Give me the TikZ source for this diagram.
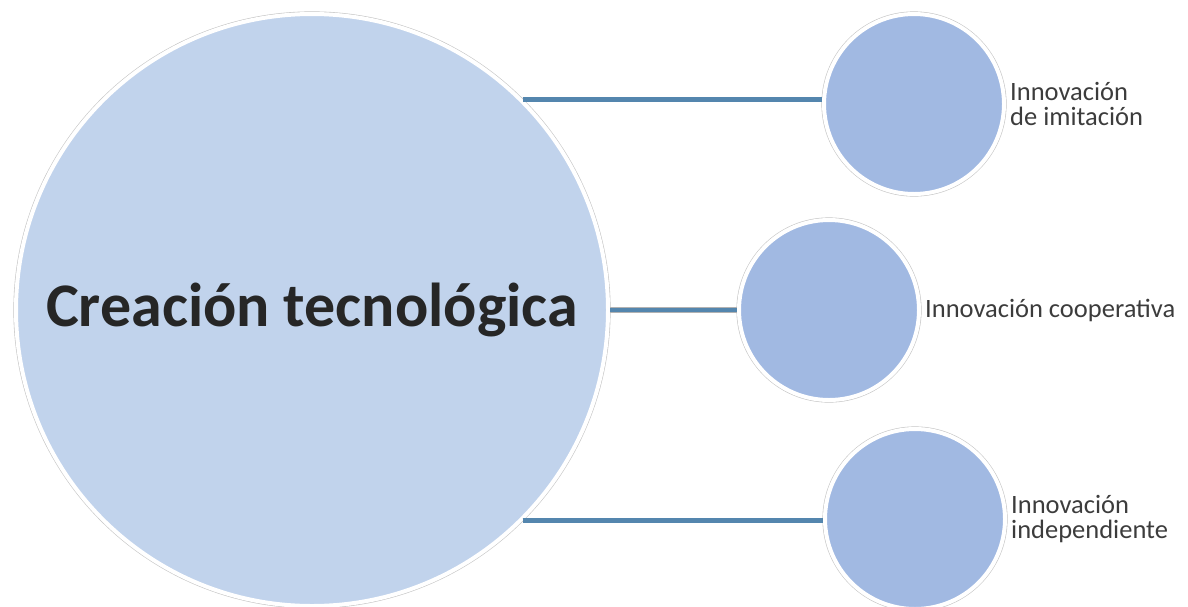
\documentclass[tikz,border=0pt]{standalone}
\usepackage{fontspec}
\setmainfont{Carlito}
\usetikzlibrary{positioning}
\definecolor{bigfill}{RGB}{193,211,236}
\definecolor{smallfill}{RGB}{161,185,226}
\definecolor{linkblue}{RGB}{84,134,174}
\definecolor{textgray}{RGB}{38,38,38}
\tikzset{
  bubble/.style={circle, draw=white, line width=4pt, preaction={draw=gray!45, line width=5.2pt}},
  bigbubble/.style={bubble, fill=bigfill, minimum size=592pt, inner sep=0pt},
  smallbubble/.style={bubble, fill=smallfill, minimum size=180pt, inner sep=0pt},
  link/.style={draw=linkblue, line width=4.5pt, preaction={draw=gray!60, line width=5.5pt}},
  lbl/.style={align=left, inner sep=2pt, text=textgray!90, font=\fontsize{26.5}{25}\selectfont}
}
\begin{document}
\begin{tikzpicture}[x=1pt, y=-1pt]
    \useasboundingbox (0,0) rectangle (1188,606);
    \node[bigbubble, text=textgray, font=\bfseries\fontsize{62}{66}\selectfont] (crea) at (312,310) {Creación tecnológica};
    \node[smallbubble] (imit) at (914,104) {};
    \node[smallbubble] (coop) at (829,310) {};
    \node[smallbubble] (indep) at (915,519) {};
    \node[lbl, right=2pt of imit] (imitlbl) {Innovación\\de imitación};
    \node[lbl, right=2pt of coop] (cooplbl) {Innovación cooperativa};
    \node[lbl, right=2pt of indep] (indeplbl) {Innovación\\independiente};
    \path[link] (crea.45) -- (crea.45 -| imit.west);
    \path[link] (crea.east) -- (coop.west);
    \path[link] (crea.-45) -- (crea.-45 -| indep.west);
\end{tikzpicture}
\end{document}
